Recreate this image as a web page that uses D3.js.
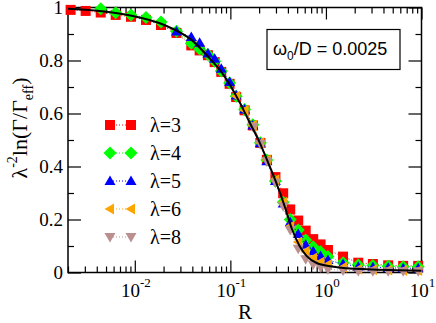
<!DOCTYPE html>
<html>
<head>
<meta charset="utf-8">
<script src="https://cdn.jsdelivr.net/npm/d3@7"></script>
<style>
  body { margin: 0; background: #fff; }
  svg { display: block; }
  text.serif { font-family: "Liberation Serif"; }
  text.sans { font-family: "Liberation Sans"; }
</style>
</head>
<body>
<svg width="436" height="323"></svg>
<script>
const width = 436;
const height = 323;

// shared R grid of the data points
const rGrid = [0.00213, 0.00306, 0.00440, 0.00631, 0.00912, 0.0131, 0.0188, 0.0273,
  0.0390, 0.0477, 0.0582, 0.0685, 0.0803, 0.0982, 0.115, 0.141, 0.172, 0.206,
  0.241, 0.296, 0.357, 0.423, 0.513, 0.614, 0.736, 0.879, 1.05, 1.51, 2.18,
  3.10, 4.48, 6.43, 9.23];

const lambdas = ["λ=3", "λ=4", "λ=5", "λ=6", "λ=8"];
const colors = ["#ff0000", "#00ff00", "#0000ff", "#ffa500", "#bc8f8f"];

const lam3 = [0.991, 0.987, 0.981, 0.972, 0.965, 0.953, 0.934, 0.904, 0.857, 0.838,
  0.820, 0.794, 0.757, 0.712, 0.662, 0.612, 0.555, 0.489, 0.425, 0.360, 0.299,
  0.238, 0.196, 0.158, 0.126, 0.106, 0.085, 0.060, 0.037, 0.032, 0.027, 0.025, 0.025];
const lam4 = [null, null, 0.995, 0.980, 0.972, 0.962, 0.945, 0.910, 0.865, 0.843,
  0.823, 0.797, 0.760, 0.715, 0.665, 0.615, 0.558, 0.490, 0.425, 0.345, 0.265,
  0.200, 0.160, 0.123, 0.097, 0.078, 0.060, 0.037, 0.028, 0.026, 0.024, 0.022, 0.022];
const lam5 = [null, null, null, null, null, null, null, 0.909, 0.889, 0.867,
  0.826, 0.807, 0.769, 0.719, 0.668, 0.615, 0.555, 0.488, 0.420, 0.345, 0.260,
  0.190, 0.145, 0.105, 0.080, 0.062, 0.047, 0.032, 0.022, 0.020, 0.018, 0.016, 0.016];
const lam6 = [null, null, null, null, null, null, null, null, null, null,
  null, null, null, null, 0.665, 0.612, 0.556, 0.490, 0.425, 0.350, 0.265,
  0.175, 0.115, 0.080, 0.055, 0.040, 0.030, 0.020, 0.012, 0.010, 0.009, 0.008, 0.008];
const lam8 = [null, null, null, null, null, null, null, null, null, null,
  null, null, null, null, null, null, 0.550, 0.485, 0.420, 0.340, 0.250,
  0.160, 0.090, 0.050, 0.030, 0.020, 0.012, 0.008, 0.006, 0.005, 0.005, 0.005, 0.005];

// black reference curve
const curveR = [0.002, 0.004, 0.009, 0.02, 0.04, 0.06, 0.08, 0.1, 0.126, 0.16, 0.2,
  0.24, 0.3, 0.37, 0.44, 0.53, 0.63, 0.8, 1.2, 2.7, 10];
const curveV = [0.995, 0.988, 0.970, 0.935, 0.875, 0.810, 0.758, 0.705, 0.640, 0.564,
  0.495, 0.428, 0.342, 0.250, 0.165, 0.100, 0.062, 0.036, 0.022, 0.012, 0.007];

const yTicks = [0, 0.2, 0.4, 0.6, 0.8, 1];
const yTickLabels = ["0", "0.2", "0.4", "0.6", "0.8", "1"];
const xMajors = [0.01, 0.1, 1, 10];
const xMajorExp = ["-2", "-1", "0", "1"];

const seriesVals = [lam3, lam4, lam5, lam6, lam8];

const plotL = 68, plotR = 421.5, plotT = 7.5, plotB = 272.5;

const svg = d3.select("svg");

const x = d3.scaleLog().domain([0.002, 10]).range([plotL, plotR]);
const y = d3.scaleLinear().domain([0, 1]).range([plotB, plotT]);

// marker shapes (xmgrace style)
const shapes = [
  "M-5,-5h10v10h-10z",
  "M0,-6.5L6.5,0L0,6.5L-6.5,0Z",
  "M0,-5.5L5.5,4L-5.5,4Z",
  "M-5.5,0L4,-5.5L4,5.5Z",
  "M0,5.5L5.5,-4L-5.5,-4Z"
];

const line = d3.line()
  .defined(d => d.v != null)
  .x(d => x(d.r))
  .y(d => y(d.v));

// ticks
const minorX = x.ticks().filter(t => !xMajors.some(m => Math.abs(m - t) / m < 1e-6));
const minorY = d3.range(0.1, 1, 0.2);

svg.append("g")
  .attr("transform", `translate(0,${plotB})`)
  .call(d3.axisBottom(x).tickValues(minorX).tickSize(-6).tickSizeOuter(0).tickFormat(""));
svg.append("g")
  .attr("transform", `translate(0,${plotB})`)
  .call(d3.axisBottom(x).tickValues(xMajors).tickSize(-12).tickSizeOuter(0).tickFormat(""));
svg.append("g")
  .attr("transform", `translate(0,${plotT})`)
  .call(d3.axisTop(x).tickValues(minorX).tickSize(-6).tickSizeOuter(0).tickFormat(""));
svg.append("g")
  .attr("transform", `translate(0,${plotT})`)
  .call(d3.axisTop(x).tickValues(xMajors).tickSize(-12).tickSizeOuter(0).tickFormat(""));

svg.append("g")
  .attr("transform", `translate(${plotL},0)`)
  .call(d3.axisLeft(y).tickValues(minorY).tickSize(-6).tickSizeOuter(0).tickFormat(""));
svg.append("g")
  .attr("transform", `translate(${plotL},0)`)
  .call(d3.axisLeft(y).tickValues(yTicks).tickSize(-13).tickSizeOuter(0).tickFormat(""));
svg.append("g")
  .attr("transform", `translate(${plotR},0)`)
  .call(d3.axisRight(y).tickValues(minorY).tickSize(-6).tickSizeOuter(0).tickFormat(""));
svg.append("g")
  .attr("transform", `translate(${plotR},0)`)
  .call(d3.axisRight(y).tickValues(yTicks).tickSize(-13).tickSizeOuter(0).tickFormat(""));

svg.selectAll(".tick line").attr("stroke", "#000").attr("stroke-width", 1.2);
svg.selectAll(".domain").remove();

// frame
svg.append("rect")
  .attr("x", plotL).attr("y", plotT)
  .attr("width", plotR - plotL).attr("height", plotB - plotT)
  .attr("fill", "none").attr("stroke", "#000").attr("stroke-width", 1.5);

// tick labels
svg.append("g").selectAll("text")
  .data(yTicks)
  .enter().append("text")
  .attr("class", "serif")
  .attr("x", 63)
  .attr("y", d => y(d) + 6.5)
  .attr("text-anchor", "end")
  .attr("font-size", 19)
  .text((d, i) => yTickLabels[i]);

const xl = svg.append("g").selectAll("text")
  .data(xMajors)
  .enter().append("text")
  .attr("class", "serif")
  .attr("x", d => x(d) + 1)
  .attr("y", 297)
  .attr("text-anchor", "middle")
  .attr("font-size", 19);
xl.append("tspan").text("10");
xl.append("tspan").attr("dy", -10).attr("font-size", 13).text((d, i) => xMajorExp[i]);

// axis titles
svg.append("text")
  .attr("class", "serif")
  .attr("x", 245).attr("y", 319)
  .attr("text-anchor", "middle")
  .attr("font-size", 21)
  .text("R");

const yt = svg.append("text")
  .attr("class", "serif")
  .attr("transform", "translate(27,128) rotate(-90)")
  .attr("text-anchor", "middle")
  .attr("font-size", 22);
yt.append("tspan").text("λ");
yt.append("tspan").attr("dy", -10).attr("font-size", 14).text("-2");
yt.append("tspan").attr("dy", 10).text("ln(Γ/Γ");
yt.append("tspan").attr("dy", 6).attr("font-size", 14).text("eff");
yt.append("tspan").attr("dy", -6).text(")");

// series
seriesVals.forEach((vals, i) => {
  const pts = rGrid.map((r, j) => ({ r: r, v: vals[j] }));
  const g = svg.append("g");
  g.append("path")
    .datum(pts)
    .attr("fill", "none")
    .attr("stroke", colors[i])
    .attr("stroke-width", 1)
    .attr("stroke-dasharray", "1,2")
    .attr("d", line);
  g.selectAll("path.pt")
    .data(pts.filter(d => d.v != null))
    .enter().append("path")
    .attr("class", "pt")
    .attr("transform", d => `translate(${x(d.r)},${y(d.v)})`)
    .attr("d", shapes[i])
    .attr("fill", colors[i]);
});

// black curve
const curvePts = curveR.map((r, j) => ({ r: r, v: curveV[j] }));
svg.append("path")
  .datum(curvePts)
  .attr("fill", "none")
  .attr("stroke", "#000")
  .attr("stroke-width", 2)
  .attr("d", d3.line().x(d => x(d.r)).y(d => y(d.v)).curve(d3.curveMonotoneX));

// legend
const legend = svg.append("g");
lambdas.forEach((name, i) => {
  const ly = 125 + i * 28;
  legend.append("line")
    .attr("x1", 110).attr("x2", 131)
    .attr("y1", ly).attr("y2", ly)
    .attr("stroke", colors[i])
    .attr("stroke-dasharray", "1,2");
  [110, 131].forEach(lx => {
    legend.append("path")
      .attr("transform", `translate(${lx},${ly})`)
      .attr("d", shapes[i])
      .attr("fill", colors[i]);
  });
  legend.append("text")
    .attr("class", "serif")
    .attr("x", 150).attr("y", ly + 7)
    .attr("font-size", 20)
    .text(name);
});

// inset box
svg.append("rect")
  .attr("x", 267).attr("y", 29.5)
  .attr("width", 133).attr("height", 40)
  .attr("fill", "#fff").attr("stroke", "#000").attr("stroke-width", 1.2);
const it = svg.append("text")
  .attr("class", "sans")
  .attr("x", 273).attr("y", 55)
  .attr("font-size", 18);
it.append("tspan").text("ω");
it.append("tspan").attr("dy", 5).attr("font-size", 12).text("0");
it.append("tspan").attr("dy", -5).text("/D = 0.0025");
</script>
</body>
</html>
